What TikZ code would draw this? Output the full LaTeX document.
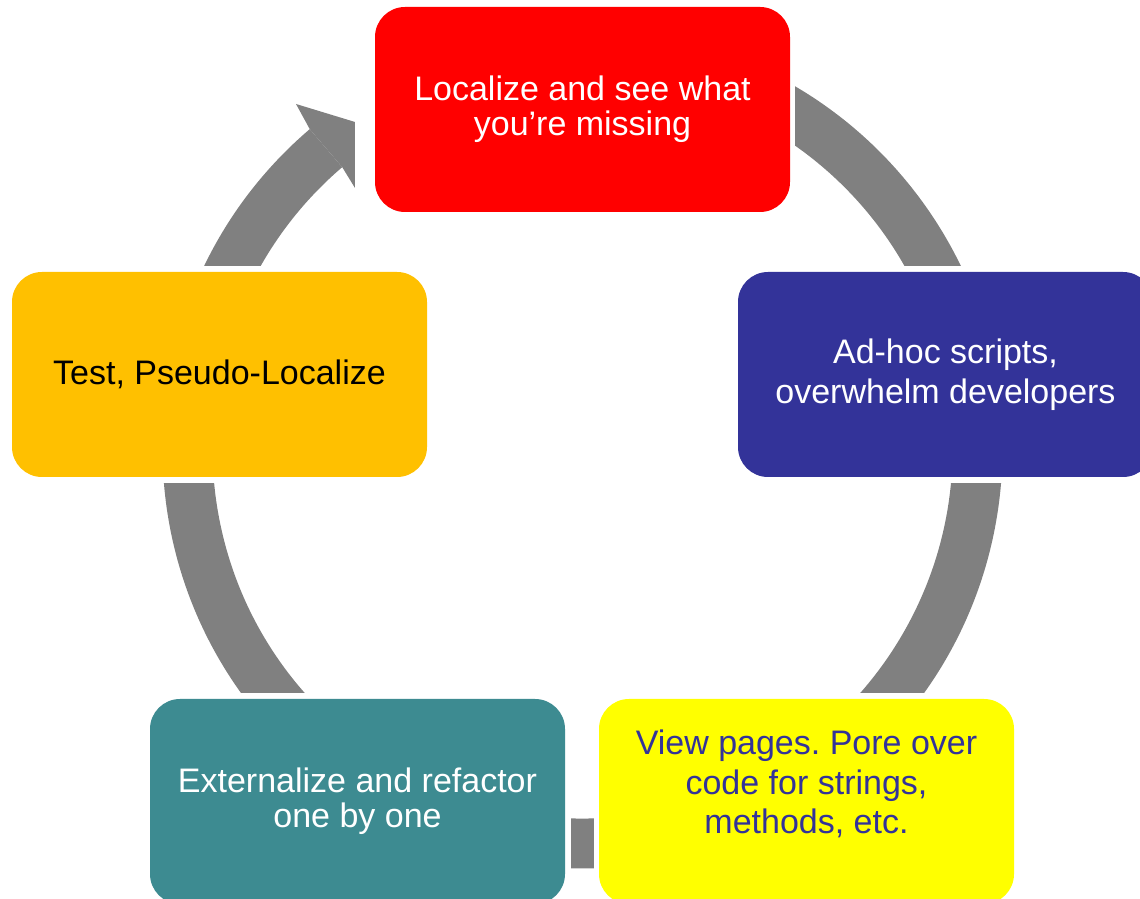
\documentclass[tikz,border=0pt]{standalone}
\usepackage{fontspec}
\setmainfont{Liberation Sans}
\usetikzlibrary{calc}
\definecolor{cRed}{RGB}{255,0,0}
\definecolor{cBlue}{RGB}{51,51,153}
\definecolor{cYellow}{RGB}{255,255,0}
\definecolor{cTeal}{RGB}{61,139,145}
\definecolor{cGold}{RGB}{255,192,0}
\definecolor{cGray}{RGB}{128,128,128}
\definecolor{cText}{RGB}{51,51,153}
\pgfdeclarelayer{bg}
\pgfdeclarelayer{mid}
\pgfsetlayers{bg,mid,main}
\frenchspacing
\begin{document}
\begin{tikzpicture}[x=1pt,y=1pt,
  box/.style={rounded corners=30pt, minimum width=415pt, minimum height=205pt,
              inner sep=0pt, align=center},
  boxtext/.style={inner sep=0pt, align=center},
  fsA/.style={font=\fontsize{34}{35}\selectfont},
  fsB/.style={font=\fontsize{34}{39.5}\selectfont},
  gap/.style={fill=white},
  ring/.style={fill=cGray}]
\useasboundingbox (0,0) rectangle (1140,899);
\coordinate (C) at (582.5,450.5);

% boxes
\node[box, fsA, fill=cRed, text=white] (r) at (582.5,789.5)
  {Localize and see what\\you’re missing};
\node[box, fsB, fill=cBlue, text=white] (b) at (945.5,524.5)
  {Ad-hoc scripts,\\overwhelm developers};
\node[box, fill=cYellow] (y) at (806.5,97.5) {};
\node[boxtext, fsB, text=cText] (yt) at (806.5,115)
  {View pages. Pore over\\code for strings,\\methods, etc.};
\node[box, fsA, fill=cTeal, text=white] (t) at (357.5,97.5)
  {Externalize and refactor\\one by one};
\node[box, fsA, fill=cGold, text=black] (g) at (219.5,524.5)
  {Test, Pseudo-Localize};

% white gaps around the boxes
\begin{pgfonlayer}{mid}
  \fill[gap] ($(r.south west)+(-20,-6)$) rectangle ($(r.north east)+(5,6)$);
  \fill[gap] ($(b.south west)+(-6,-6)$) rectangle ($(b.north east)+(6,6)$);
  \fill[gap] ($(y.south west)+(-5,-6)$) rectangle ($(y.north east)+(6,6)$);
  \fill[gap] ($(t.south west)+(-6,-6)$) rectangle ($(t.north east)+(6,6)$);
  \fill[gap] ($(g.south west)+(-6,-6)$) rectangle ($(g.north east)+(6,6)$);
\end{pgfonlayer}

% cycle ring and arrowhead
\begin{pgfonlayer}{bg}
  \fill[ring] ($(C)+(130.5:420)$) arc[start angle=130.5, end angle=460, radius=420]
     -- ($(C)+(100:370)$) arc[start angle=460, end angle=130.5, radius=370] -- cycle;
  \coordinate (hi) at ($(C)+(130.5:370)$);
  \coordinate (ho) at ($(C)+(130.5:420)$);
  \coordinate (hb1) at (296,795);
  \coordinate (htip) at (355,777);
  \coordinate (hb2) at (355,711);
  \fill[ring] (hb1) -- (htip) -- (hb2) -- (hi) -- (ho) -- cycle;
\end{pgfonlayer}
\end{tikzpicture}
\end{document}
